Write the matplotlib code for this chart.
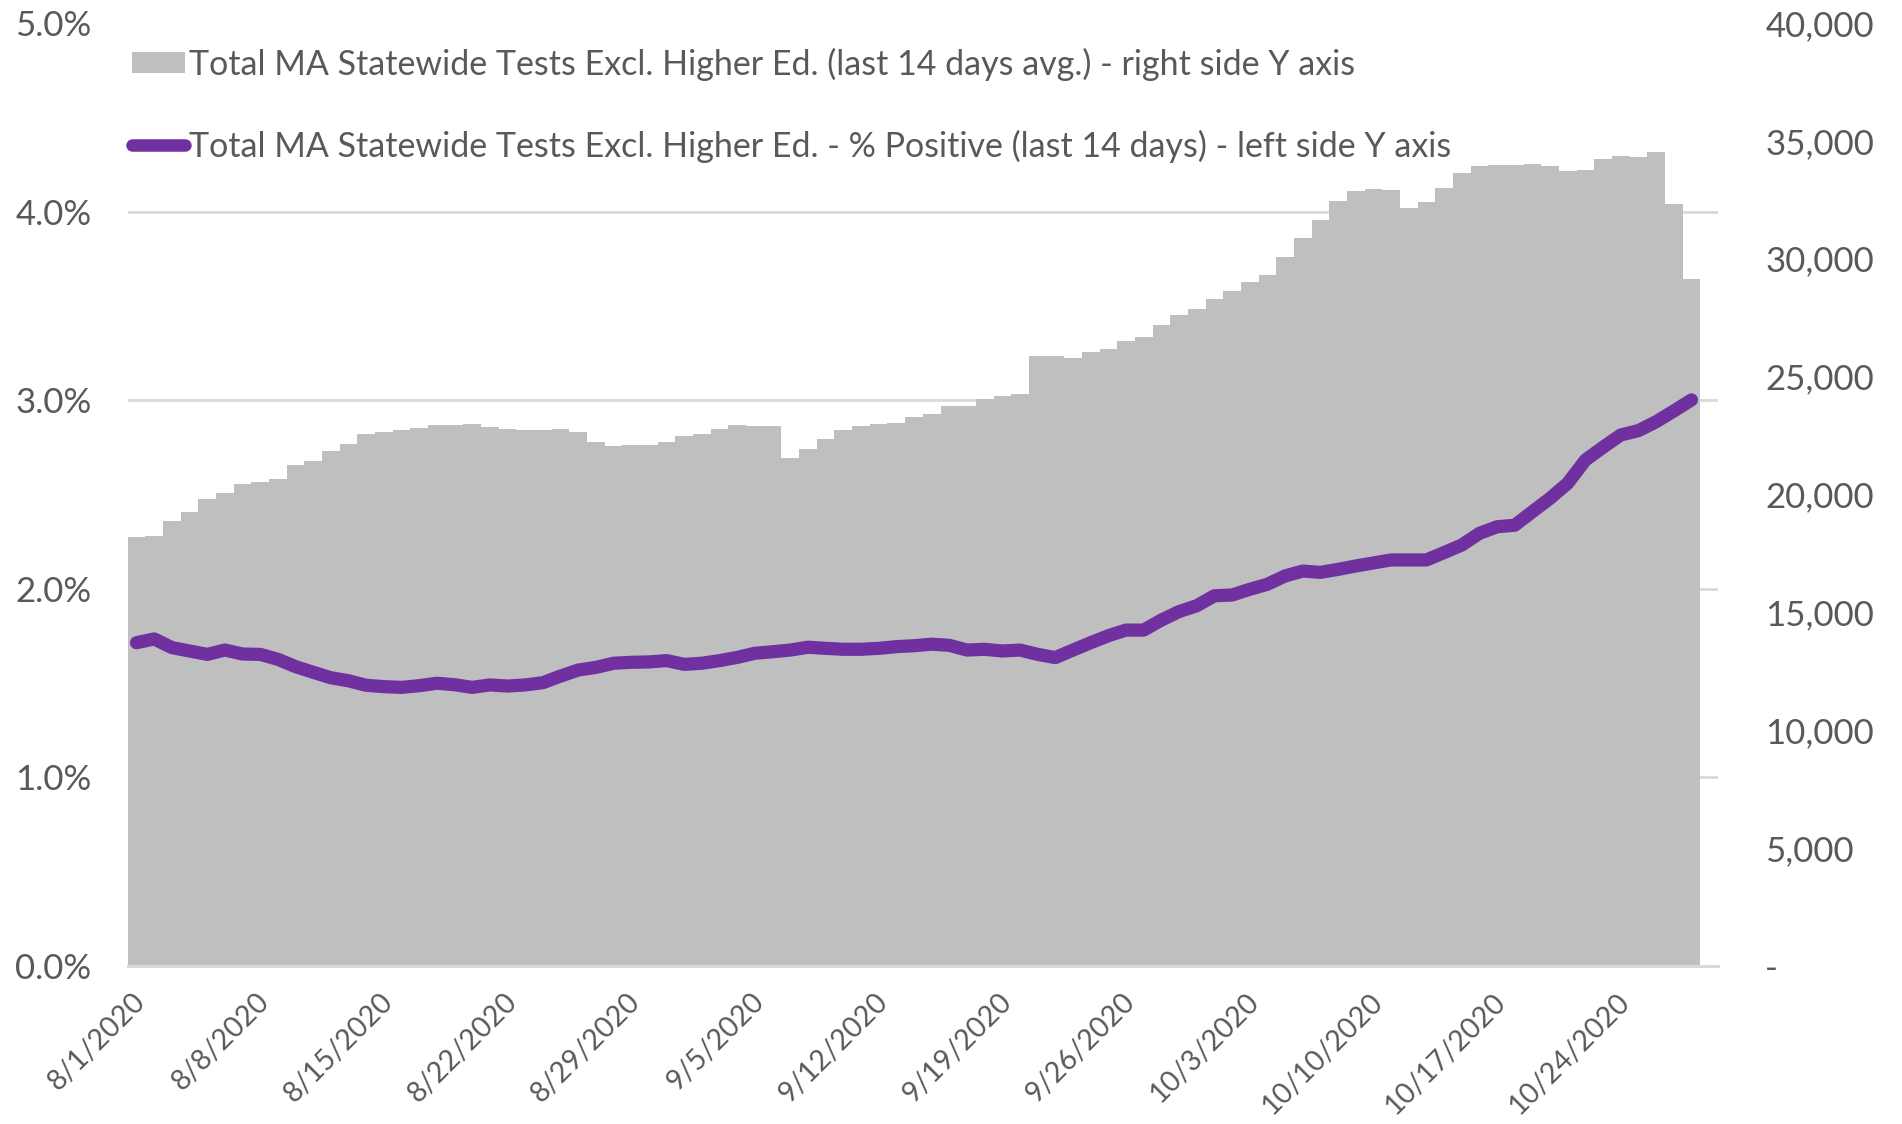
import numpy as np
import matplotlib
import matplotlib.pyplot as plt
from matplotlib.patches import Patch
from matplotlib.lines import Line2D
from matplotlib.ticker import MultipleLocator, FuncFormatter
from matplotlib.transforms import ScaledTranslation

matplotlib.use('Agg')

# 14 day avg of tests per day, 8/1/2020 .. 10/28/2020
tests_avg = [18200, 18240, 18860, 19260, 19800, 20040, 20420, 20530, 20670, 21240,
             21420, 21830, 22130, 22540, 22640, 22710, 22820, 22940, 22940, 22970,
             22840, 22770, 22740, 22720, 22770, 22650, 22240, 22060, 22090, 22100,
             22200, 22470, 22550, 22790, 22940, 22920, 22920, 21540, 21930, 22340,
             22750, 22890, 22970, 23030, 23290, 23430, 23750, 23760, 24040, 24180,
             24260, 25890, 25850, 25770, 26020, 26170, 26490, 26670, 27190, 27600,
             27870, 28270, 28630, 29020, 29290, 30080, 30870, 31660, 32460, 32870,
             32950, 32910, 32170, 32420, 33020, 33640, 33950, 33980, 33980, 34000,
             33920, 33730, 33780, 34220, 34360, 34310, 34520, 32300, 29120]

# % positive (last 14 days)
pct_positive = [1.713, 1.733, 1.687, 1.669, 1.651, 1.674, 1.653, 1.651, 1.625, 1.586,
                1.556, 1.527, 1.511, 1.487, 1.480, 1.476, 1.485, 1.498, 1.490, 1.476,
                1.489, 1.483, 1.489, 1.501, 1.536, 1.568, 1.582, 1.604, 1.609, 1.611,
                1.618, 1.598, 1.604, 1.618, 1.635, 1.657, 1.665, 1.674, 1.689, 1.683,
                1.678, 1.678, 1.683, 1.692, 1.697, 1.705, 1.699, 1.674, 1.678, 1.669,
                1.674, 1.651, 1.634, 1.674, 1.713, 1.750, 1.780, 1.780, 1.833, 1.878,
                1.909, 1.962, 1.966, 1.996, 2.023, 2.067, 2.093, 2.086, 2.102, 2.120,
                2.136, 2.152, 2.152, 2.152, 2.191, 2.231, 2.293, 2.328, 2.336, 2.408,
                2.479, 2.559, 2.682, 2.750, 2.815, 2.838, 2.885, 2.942, 3.001]

tick_days = [0, 7, 14, 21, 28, 35, 42, 49, 56, 63, 70, 77, 84]
tick_labels = ['8/1/2020', '8/8/2020', '8/15/2020', '8/22/2020', '8/29/2020', '9/5/2020',
               '9/12/2020', '9/19/2020', '9/26/2020', '10/3/2020', '10/10/2020',
               '10/17/2020', '10/24/2020']

bar_label = 'Total MA Statewide Tests Excl. Higher Ed. (last 14 days avg.) - right side Y axis'
line_label = 'Total MA Statewide Tests Excl. Higher Ed. - % Positive (last 14 days) - left side Y axis'

TEXT = '#595959'
GRID = '#d9d9d9'
BAR = '#bfbfbf'
PURPLE = '#7030a0'

plt.rcParams['font.family'] = ['Lato', 'DejaVu Sans']
plt.rcParams['text.color'] = TEXT

fig = plt.figure(figsize=(19.02, 11.24), dpi=100)
ax = fig.add_axes([0.06714, 0.1409, 0.8361, 0.8386])  # bars, right side axis
ax2 = ax.twinx()  # line, left side axis

days = np.arange(len(tests_avg))
ax.bar(days, tests_avg, width=1.0, align='edge', color=BAR, zorder=2)
ax2.plot(days + 0.5, pct_positive, color=PURPLE, lw=9.5, solid_capstyle='round',
         solid_joinstyle='round', zorder=3)

ax.set_xlim(0, len(tests_avg) + 1)
ax.set_ylim(0, 40000)
ax2.set_ylim(0, 5.0)

#right axis labels
ax.yaxis.tick_right()
ax.yaxis.set_major_locator(MultipleLocator(5000))
ax.yaxis.set_major_formatter(FuncFormatter(lambda v, p: '-' if v == 0 else f'{v:,.0f}'))
ax.tick_params(axis='y', length=0, pad=34, labelsize=25, labelcolor=TEXT)
for lbl in ax.get_yticklabels():
    lbl.set_horizontalalignment('left')

#grid follows the left axis ticks (1% steps)
ax.yaxis.set_minor_locator(MultipleLocator(8000))
ax.grid(which='minor', axis='y', color=GRID, lw=2)
ax.grid(which='major', visible=False)
ax.tick_params(axis='y', which='minor', length=0)
ax.set_axisbelow(True)

#left axis labels
ax2.yaxis.tick_left()
ax2.yaxis.set_major_locator(MultipleLocator(1.0))
ax2.yaxis.set_major_formatter(FuncFormatter(lambda v, p: f'{v:.1f}%'))
ax2.tick_params(axis='y', length=0, pad=26, labelsize=25, labelcolor=TEXT)

ax.set_xticks(np.array(tick_days) + 0.5)
ax.set_xticklabels(tick_labels, rotation=45, ha='right', va='center', rotation_mode='anchor')
ax.tick_params(axis='x', length=0, pad=23, labelsize=20.5, labelcolor=TEXT)
shift = ScaledTranslation(5 / 100, 0, fig.dpi_scale_trans)  # nudge labels a bit right
for lbl in ax.get_xticklabels():
    lbl.set_transform(lbl.get_transform() + shift)

for a in (ax, ax2):
    for side in ('top', 'left', 'right'):
        a.spines[side].set_visible(False)
    a.spines['bottom'].set_color(GRID)
    a.spines['bottom'].set_linewidth(2)

handles = [Patch(facecolor=BAR, edgecolor='none'),
           Line2D([], [], color=PURPLE, lw=9, solid_capstyle='round')]
fig.legend(handles, [bar_label, line_label], loc='upper left',
           bbox_to_anchor=(132 / 1902, 1 - 47.5 / 1124), frameon=False,
           fontsize=24.5, handlelength=1.56, handleheight=0.6, handletextpad=0.12,
           labelspacing=1.44, borderpad=0, borderaxespad=0, labelcolor=TEXT)

plt.savefig('out.png', dpi=100)
plt.close()
